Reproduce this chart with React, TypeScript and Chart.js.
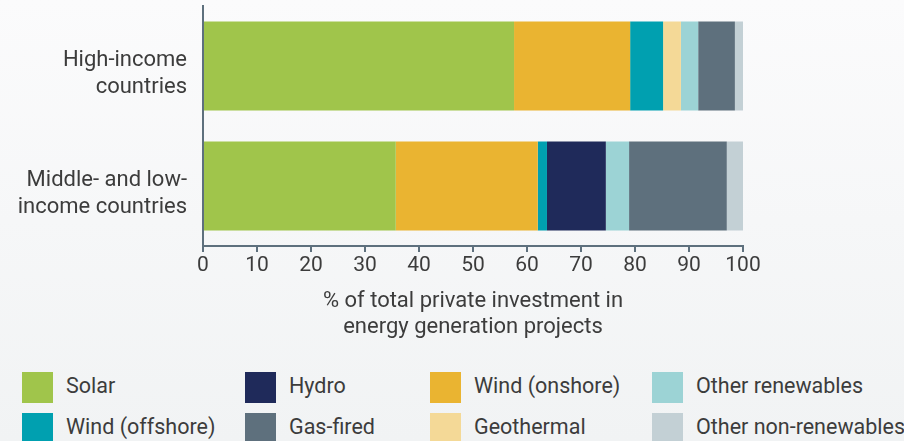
import React, { useEffect, useRef } from "react";
import { Chart, registerables } from "chart.js";

Chart.register(...registerables);

const categories: string[][] = [["High-income", "countries"], ["Middle- and low-", "income countries"]];
const seriesNames = ["Solar", "Wind (onshore)", "Wind (offshore)", "Hydro", "Geothermal", "Other renewables", "Gas-fired", "Other non-renewables"];
const seriesColors = ["#a0c54b", "#eab431", "#00a0b0", "#1f2a5a", "#f4d997", "#9cd3d5", "#5e707d", "#c3d0d5"];
const solar = [57.6, 35.7];
const windOnshore = [21.5, 26.3];
const windOffshore = [6.1, 1.7];
const hydro = [0, 10.9];
const geothermal = [3.3, 0];
const otherRenewables = [3.2, 4.3];
const gasFired = [6.8, 18.1];
const otherNonRenewables = [1.5, 3.0];
const seriesValues = [solar, windOnshore, windOffshore, hydro, geothermal, otherRenewables, gasFired, otherNonRenewables];
const xTicks = [0, 10, 20, 30, 40, 50, 60, 70, 80, 90, 100];
const legendOrder = ["Solar", "Hydro", "Wind (onshore)", "Other renewables", "Wind (offshore)", "Gas-fired", "Geothermal", "Other non-renewables"];
const legendCols = [22, 245, 430, 652];

const FONT = "Roboto, 'Noto Sans', sans-serif";
const TEXT = "#3c3c3c";
const AXIS = "#5e707d";

export default function App() {
  const ref = useRef<HTMLCanvasElement | null>(null);
  useEffect(() => {
    document.body.style.margin = "0";
    const ctx = ref.current!;
    const chart = new Chart(ctx, {
      type: "bar",
      data: {
        labels: categories,
        datasets: seriesNames.map((n, i) => ({
          label: n,
          data: seriesValues[i],
          backgroundColor: seriesColors[i],
          borderWidth: 0,
          barPercentage: 0.742,
          categoryPercentage: 1,
        })),
      },
      options: {
        indexAxis: "y",
        responsive: false,
        animation: false,
        maintainAspectRatio: false,
        layout: { padding: { top: 6, right: 161, left: 0, bottom: 0 } },
        plugins: { legend: { display: false }, tooltip: { enabled: false } },
        scales: {
          x: {
            stacked: true,
            min: 0,
            max: 100,
            afterBuildTicks: (s: any) => { s.ticks = xTicks.map((v) => ({ value: v })); },
            afterFit: (s: any) => { s.height = 99; s.paddingLeft = 0; s.paddingRight = 0; },
            grid: { display: true, drawOnChartArea: false, drawTicks: true, tickLength: 6, color: AXIS, lineWidth: 2 },
            border: { display: true, color: AXIS, width: 2 },
            ticks: { color: TEXT, font: { family: FONT, size: 21 }, padding: 1, maxRotation: 0, autoSkip: false },
            title: {
              display: true,
              text: ["% of total private investment in", "energy generation projects"],
              color: TEXT,
              font: { family: FONT, size: 22, lineHeight: 1.2 },
              padding: { top: 12 },
            },
          },
          y: {
            stacked: true,
            afterFit: (s: any) => { s.width = 203; s.paddingTop = 0; s.paddingBottom = 0; },
            grid: { display: false },
            border: { display: true, color: AXIS, width: 2 },
            ticks: { color: TEXT, font: { family: FONT, size: 22, lineHeight: 1.2 }, padding: 8, labelOffset: 8 },
          },
        },
      },
    });
    return () => chart.destroy();
  }, []);

  const colorOf = (n: string) => seriesColors[seriesNames.indexOf(n)];

  return (
    <div style={{ position: "relative", width: 904, height: 441, overflow: "hidden", background: "linear-gradient(180deg, #fbfbfc 0%, #f1f3f4 100%)", fontFamily: FONT }}>
      <canvas ref={ref} width={904} height={345} style={{ position: "absolute", left: 0, top: 0, width: 904, height: 345 }} />
      {legendOrder.map((n, i) => {
        const col = i % 4;
        const row = Math.floor(i / 4);
        const x = legendCols[col];
        const y = 372 + row * 41;
        return (
          <div key={n} style={{ position: "absolute", left: x, top: y, height: 31, display: "flex", alignItems: "center" }}>
            <div style={{ width: 31, height: 31, background: colorOf(n) }} />
            <span style={{ marginLeft: 13, fontSize: 21.5, color: TEXT, whiteSpace: "nowrap", lineHeight: "31px", position: "relative", top: -2 }}>{n}</span>
          </div>
        );
      })}
    </div>
  );
}
